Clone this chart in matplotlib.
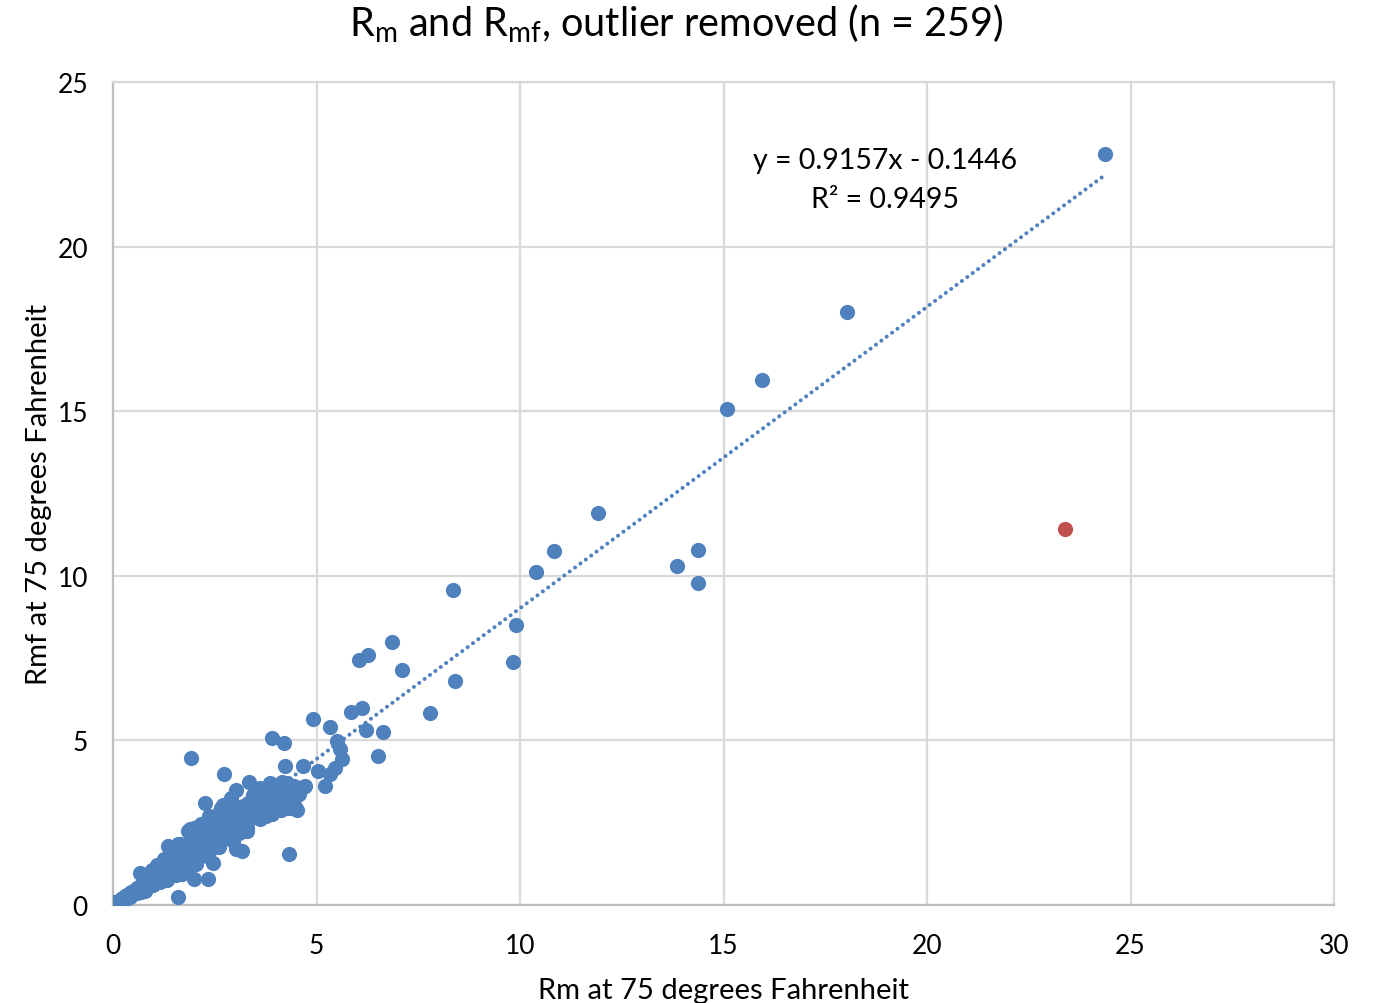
import matplotlib
matplotlib.use("Agg")
import matplotlib.pyplot as plt
import numpy as np

plt.rcParams['font.family'] = ['Lato', 'DejaVu Sans']

# Distinct (readable) blue points
rm_main = [24.37, 18.03, 15.95, 15.09, 11.92, 10.84, 10.39, 14.37, 13.86, 14.37, 9.90, 9.83,
           8.35, 8.40, 7.79, 6.86, 7.10, 6.26, 6.04, 6.12, 5.85, 6.63, 6.22, 6.51, 4.91, 5.33,
           5.50, 5.58, 5.63, 5.45, 5.33, 5.04, 5.21, 4.20, 3.91, 4.23, 4.67, 4.67, 4.55, 4.47,
           4.52, 1.91, 2.73, 4.32, 3.34, 3.02, 2.26, 1.35, 1.60, 2.33, 1.99, 3.02, 3.17, 2.46,
           0.66, 0.00, 4.72, 4.57]
rmf_main = [22.81, 18.01, 15.95, 15.07, 11.91, 10.75, 10.12, 10.78, 10.30, 9.78, 8.51, 7.38,
            9.57, 6.80, 5.83, 7.99, 7.14, 7.59, 7.44, 5.98, 5.86, 5.26, 5.32, 4.53, 5.65, 5.41,
            4.99, 4.74, 4.44, 4.16, 3.98, 4.07, 3.61, 4.92, 5.08, 4.22, 4.22, 3.58, 3.43, 2.98,
            2.89, 4.47, 3.99, 1.55, 3.74, 3.49, 3.10, 1.79, 0.24, 0.79, 0.79, 1.70, 1.65, 1.28,
            0.97, 0.09, 3.62, 3.37]

# Dense cluster (estimated)
rm_cluster = [0.05, 0.1, 0.15, 0.2, 0.25, 0.3, 0.35, 0.4, 0.45, 0.12, 0.3, 0.42,
              0.55, 0.6, 0.65, 0.7, 0.75, 0.8, 0.85, 0.9, 0.95, 0.6, 0.72, 0.78, 0.88, 0.98, 0.7, 0.82,
              1.02, 1.05, 1.1, 1.12, 1.18, 1.2, 1.25, 1.28, 1.3, 1.35, 1.38, 1.42, 1.45, 1.48, 1.15, 1.32, 1.4, 1.08,
              1.52, 1.55, 1.58, 1.6, 1.62, 1.65, 1.68, 1.7, 1.72, 1.75, 1.78, 1.8, 1.82, 1.85, 1.88, 1.9, 1.92, 1.95,
              1.98, 1.55, 1.7, 1.85, 1.9, 1.65,
              2.02, 2.05, 2.08, 2.1, 2.12, 2.15, 2.18, 2.2, 2.22, 2.25, 2.28, 2.3, 2.32, 2.35, 2.38, 2.4, 2.42, 2.45,
              2.48, 2.1, 2.3, 2.5, 2.15, 2.4,
              2.52, 2.55, 2.58, 2.6, 2.62, 2.65, 2.68, 2.7, 2.72, 2.75, 2.78, 2.8, 2.82, 2.85, 2.88, 2.9, 2.92, 2.95,
              2.98, 2.55, 2.65, 2.85, 2.95, 2.75,
              3.02, 3.05, 3.08, 3.1, 3.12, 3.15, 3.18, 3.2, 3.22, 3.25, 3.28, 3.3, 3.32, 3.35, 3.38, 3.4, 3.42, 3.45,
              3.48, 3.1, 3.3, 3.45, 3.2,
              3.52, 3.55, 3.58, 3.6, 3.62, 3.65, 3.68, 3.7, 3.72, 3.75, 3.78, 3.8, 3.82, 3.85, 3.88, 3.9, 3.92, 3.95,
              3.98, 3.6, 3.75, 3.85, 3.9,
              4.02, 4.05, 4.08, 4.1, 4.12, 4.15, 4.18, 4.2, 4.22, 4.25, 4.3, 4.35, 4.4, 4.45, 4.5, 4.38, 4.28,
              0.95, 1.25, 1.6, 2.0, 2.35, 2.7, 2.9, 3.6, 3.95, 4.15, 2.6, 3.3, 1.4, 1.75, 2.05]
rmf_cluster = [0.05, 0.1, 0.12, 0.18, 0.2, 0.28, 0.3, 0.32, 0.4, 0.06, 0.15, 0.25,
               0.45, 0.52, 0.5, 0.62, 0.55, 0.7, 0.65, 0.8, 0.75, 0.35, 0.9, 0.42, 0.95, 0.6, 0.4, 0.5,
               0.85, 1.0, 0.9, 1.1, 0.95, 1.05, 1.15, 0.8, 1.2, 1.1, 1.3, 1.0, 1.25, 1.4, 0.7, 0.75, 1.55, 1.2,
               1.2, 1.35, 1.5, 1.1, 1.45, 1.6, 1.3, 1.7, 1.25, 1.55, 1.4, 1.75, 1.0, 1.6, 1.9, 1.45, 2.1, 1.7,
               1.55, 0.9, 0.95, 2.25, 2.3, 1.85,
               1.8, 2.0, 1.65, 2.2, 1.9, 1.75, 2.1, 2.3, 1.95, 1.6, 2.4, 2.05, 2.2, 1.85, 2.5, 2.25, 2.0, 2.6,
               2.35, 1.45, 1.5, 2.1, 2.45, 1.7,
               2.4, 2.7, 2.2, 2.5, 2.85, 2.3, 2.6, 2.0, 2.75, 2.45, 2.9, 2.55, 2.2, 2.7, 2.4, 2.85, 2.6, 2.3,
               2.75, 1.9, 2.95, 2.05, 1.95, 2.1,
               2.6, 2.8, 2.45, 2.95, 2.7, 2.4, 2.85, 3.0, 2.6, 2.75, 2.95, 2.55, 3.1, 2.8, 2.65, 3.0, 3.2, 2.7,
               2.9, 2.2, 2.35, 3.35, 2.3,
               2.8, 3.1, 2.95, 3.3, 2.7, 3.0, 3.2, 2.85, 3.4, 3.05, 2.9, 3.25, 3.5, 3.0, 3.15, 2.75, 3.35, 3.6,
               3.1, 2.6, 2.7, 3.7, 3.45,
               3.3, 3.0, 3.5, 3.2, 2.9, 3.4, 3.6, 3.1, 3.3, 2.95, 3.5, 3.2, 3.4, 3.6, 3.3, 2.95, 3.7,
               1.05, 1.4, 1.85, 2.35, 2.7, 3.05, 3.25, 3.55, 3.0, 3.75, 1.75, 2.25, 0.95, 1.2, 1.25]

# Removed outlier
rm_out = [23.39]
rmf_out = [11.42]

slope, intercept = 0.9157, -0.1446
eq_text = "y = 0.9157x - 0.1446"
r2_text = "R² = 0.9495"

blue = "#4F81BD"
red = "#C0504D"
grid_c = "#D9D9D9"

fig = plt.figure(figsize=(13.75, 10.04), dpi=100)
ax = fig.add_axes([113/1375, 1-906/1004, (1334-113)/1375, (906-83)/1004])

rm_all = np.array(rm_main + rm_cluster)
rmf_all = np.array(rmf_main + rmf_cluster)

xs = np.array([rm_all.min(), rm_all.max()])
ax.plot(xs, slope*xs + intercept, linestyle=(0, (0.01, 1.65)), color=blue, lw=2.9, zorder=2,
        dash_capstyle='round', solid_capstyle='round')
ax.scatter(rm_all, rmf_all, s=120, color=blue, zorder=3, linewidths=0)
ax.scatter(rm_out, rmf_out, s=120, color=red, zorder=3, linewidths=0)

ax.set_xlim(0, 30)
ax.set_ylim(0, 25)
ax.set_xticks([0, 5, 10, 15, 20, 25, 30])
ax.set_yticks([0, 5, 10, 15, 20, 25])
ax.grid(True, color=grid_c, lw=1.6, zorder=0)
ax.set_axisbelow(True)
for sp in ax.spines.values():
    sp.set_color(grid_c)
    sp.set_linewidth(1.6)
ax.spines['left'].set_color("#BFBFBF")
ax.spines['bottom'].set_color("#BFBFBF")
ax.tick_params(length=0, labelsize=19, colors="#000000")
ax.tick_params(axis='y', pad=18)
ax.tick_params(axis='x', pad=20)

ax.set_xlabel("Rm at 75 degrees Fahrenheit", fontsize=21, labelpad=14)
ax.set_ylabel("Rmf at 75 degrees Fahrenheit", fontsize=21, labelpad=4)

fig.text(0.5 * (355 + 998) / 1375, 1 - 24/1004,
         r"R$_{\mathregular{m}}$ and R$_{\mathregular{mf}}$, outlier removed (n = 259)",
         ha='center', va='center', fontsize=28.5)

fig.text(885/1375, 1 - 161/1004, eq_text, ha='center', va='center', fontsize=20.5)
fig.text(885/1375, 1 - 200/1004, r2_text, ha='center', va='center', fontsize=20.5)

fig.savefig("out.png", dpi=100)
